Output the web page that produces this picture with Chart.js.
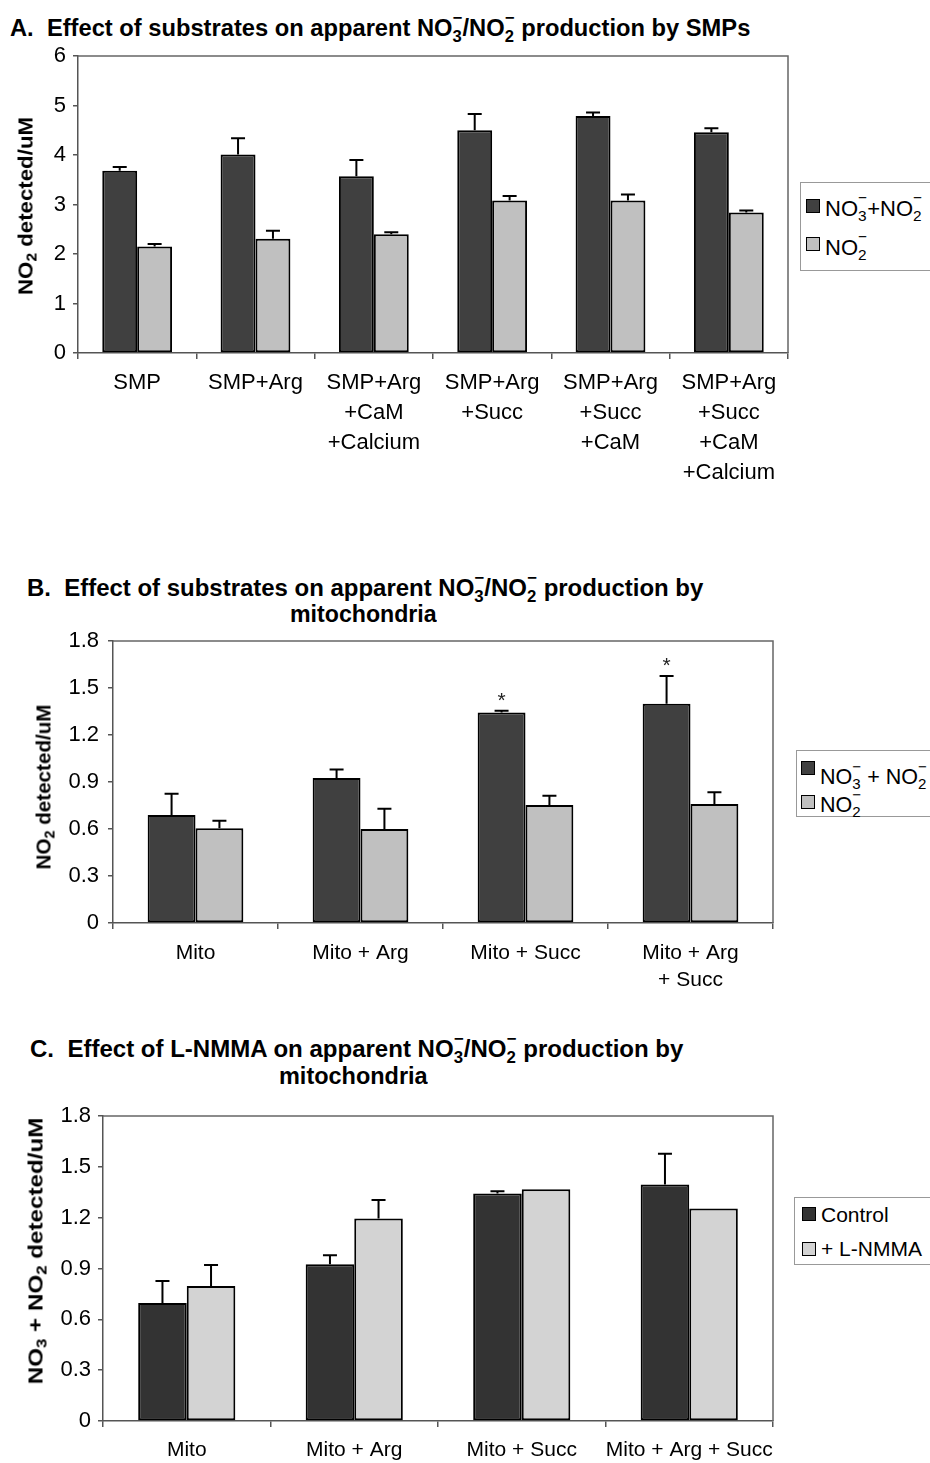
<!DOCTYPE html>
<html>
<head>
<title>NO3/NO2 production by SMPs and mitochondria</title>
<script src="https://cdn.jsdelivr.net/npm/chart.js"></script>
<style>
  body { margin: 0; width: 930px; height: 1463px; overflow: hidden; background: #fff; position: relative;
         font-family: "Liberation Sans", Arial, sans-serif; color: #000; }
  .pane { position: absolute; }
  .ttl { position: absolute; white-space: nowrap; font-weight: bold; font-size: 23px; line-height: 1;
         transform-origin: 0 0; font-family: "Liberation Sans Narrow", "Liberation Sans", sans-serif; }
  .ytl { position: absolute; white-space: nowrap; font-weight: bold; font-size: 21px; line-height: 1; }
  .box { position: absolute; border: 1.5px solid #999; background: #fff; box-sizing: border-box; }
  .sq { position: absolute; width: 14px; height: 14px; border: 1.5px solid #000; box-sizing: border-box; }
  .lg { position: absolute; font-size: 22px; line-height: 1; white-space: nowrap; }
  .ss { display: inline-block; position: relative; width: .42em; height: 1em; }
  .ss .p, .ss .b { position: absolute; left: 0; font-size: .7em; line-height: 1; }
  .ss .p { top: -.23em; }
  .ss .b { top: .94em; }
  .sb { font-size: .7em; position: relative; top: .3em; }
</style>
</head>
<body>

<div class="ttl" style="left:10px;top:13px" data-w="740">A.&nbsp; Effect of substrates on apparent NO<span class="ss"><span class="p">&minus;</span><span class="b">3</span></span>/NO<span class="ss"><span class="p">&minus;</span><span class="b">2</span></span> production by SMPs</div>
<div class="pane" style="left:0;top:0;width:800px;height:500px"><canvas id="chartA"></canvas></div>
<div class="ytl" data-cx="25" data-cy="206" data-w="178">NO<span class="sb">2</span> detected/uM</div>
<div class="box" style="left:800px;top:182px;width:140px;height:89px"></div>
<div class="sq" style="left:806px;top:199px;background:#404040"></div>
<div class="lg" style="left:825px;top:194px">NO<span class="ss"><span class="p">&minus;</span><span class="b">3</span></span>+NO<span class="ss"><span class="p">&minus;</span><span class="b">2</span></span></div>
<div class="sq" style="left:806px;top:237px;background:#c0c0c0"></div>
<div class="lg" style="left:825px;top:233px">NO<span class="ss"><span class="p">&minus;</span><span class="b">2</span></span></div>

<div class="ttl" style="left:27px;top:573px" data-w="676">B.&nbsp; Effect of substrates on apparent NO<span class="ss"><span class="p">&minus;</span><span class="b">3</span></span>/NO<span class="ss"><span class="p">&minus;</span><span class="b">2</span></span> production by</div>
<div class="ttl" style="left:290px;top:603px" data-w="147">mitochondria</div>
<div class="pane" style="left:0;top:600px;width:790px;height:400px"><canvas id="chartB"></canvas></div>
<div class="ytl" data-cx="43" data-cy="787" data-w="165">NO<span class="sb">2</span> detected/uM</div>
<div class="box" style="left:796px;top:750px;width:140px;height:67px"></div>
<div class="sq" style="left:801px;top:761px;background:#404040"></div>
<div class="lg" style="left:820px;top:762px;font-size:21.5px">NO<span class="ss"><span class="p">&minus;</span><span class="b">3</span></span> + NO<span class="ss"><span class="p">&minus;</span><span class="b">2</span></span></div>
<div class="sq" style="left:801px;top:795px;background:#c0c0c0"></div>
<div class="lg" style="left:820px;top:790px;font-size:21.5px">NO<span class="ss"><span class="p">&minus;</span><span class="b">2</span></span></div>

<div class="ttl" style="left:30px;top:1034px" data-w="653">C.&nbsp; Effect of L-NMMA on apparent NO<span class="ss"><span class="p">&minus;</span><span class="b">3</span></span>/NO<span class="ss"><span class="p">&minus;</span><span class="b">2</span></span> production by</div>
<div class="ttl" style="left:279px;top:1065px" data-w="149">mitochondria</div>
<div class="pane" style="left:0;top:1090px;width:790px;height:373px"><canvas id="chartC"></canvas></div>
<div class="ytl" data-cx="35" data-cy="1251" data-w="267">NO<span class="sb">3</span> + NO<span class="sb">2</span> detected/uM</div>
<div class="box" style="left:794px;top:1197px;width:140px;height:68px"></div>
<div class="sq" style="left:802px;top:1207px;background:#333333"></div>
<div class="lg" style="left:821px;top:1204px;font-size:21px">Control</div>
<div class="sq" style="left:802px;top:1242px;background:#d3d3d3"></div>
<div class="lg" style="left:821px;top:1238px;font-size:21px">+ L-NMMA</div>

<script>
  // panel A - SMPs
  const labelsA = ['SMP', 'SMP+Arg', ['SMP+Arg', '+CaM', '+Calcium'], ['SMP+Arg', '+Succ'],
                   ['SMP+Arg', '+Succ', '+CaM'], ['SMP+Arg', '+Succ', '+CaM', '+Calcium']];
  const noxA    = [3.68, 4.01, 3.57, 4.50, 4.79, 4.46];
  const noxAErr = [0.08, 0.33, 0.33, 0.33, 0.07, 0.08];
  const no2A    = [2.15, 2.31, 2.40, 3.08, 3.08, 2.84];
  const no2AErr = [0.05, 0.16, 0.04, 0.09, 0.12, 0.04];

  // panel B - mitochondria
  const labelsB = ['Mito', 'Mito + Arg', 'Mito + Succ', ['Mito + Arg', '+ Succ']];
  const noxB    = [0.69, 0.925, 1.344, 1.399];
  const noxBErr = [0.135, 0.055, 0.01, 0.178];
  const no2B    = [0.605, 0.60, 0.753, 0.76];
  const no2BErr = [0.048, 0.13, 0.06, 0.074];
  const sigB    = ['', '', '*', '*'];

  // panel C - L-NMMA
  const labelsC  = ['Mito', 'Mito + Arg', 'Mito + Succ', 'Mito + Arg + Succ'];
  const ctrlC    = [0.697, 0.925, 1.342, 1.396];
  const ctrlCErr = [0.129, 0.053, 0.014, 0.181];
  const nmmaC    = [0.797, 1.195, 1.368, 1.254];
  const nmmaCErr = [0.124, 0.11, null, null];

  const FONT = '"Liberation Sans", Arial, sans-serif';

  // upper error bars (+ optional significance marks) drawn through the y scale
  const errorBars = {
    id: 'errorBars',
    afterDatasetsDraw(chart, args, opts) {
      const ctx = chart.ctx, y = chart.scales.y;
      ctx.save();
      ctx.strokeStyle = '#000';
      ctx.fillStyle = '#222';
      ctx.lineWidth = 2;
      ctx.font = '21px ' + FONT;
      ctx.textAlign = 'center';
      ctx.textBaseline = 'middle';
      chart.data.datasets.forEach((ds, i) => {
        const errs = opts.errors[i];
        chart.getDatasetMeta(i).data.forEach((bar, j) => {
          const e = errs[j];
          if (e == null) return;
          const top = y.getPixelForValue(ds.data[j] + e);
          ctx.beginPath();
          ctx.moveTo(bar.x, bar.y);
          ctx.lineTo(bar.x, top);
          ctx.moveTo(bar.x - opts.cap, top);
          ctx.lineTo(bar.x + opts.cap, top);
          ctx.stroke();
          const m = opts.marks && opts.marks[i] && opts.marks[i][j];
          if (m) ctx.fillText(m, bar.x, top - 10);
        });
      });
      ctx.restore();
    }
  };

  // top and right edge of the plot frame
  const frame = {
    id: 'frame',
    beforeDatasetsDraw(chart) {
      const a = chart.chartArea, ctx = chart.ctx;
      ctx.save();
      ctx.strokeStyle = '#666';
      ctx.lineWidth = 1.5;
      ctx.beginPath();
      ctx.moveTo(a.left, a.top);
      ctx.lineTo(a.right, a.top);
      ctx.lineTo(a.right, a.bottom);
      ctx.stroke();
      ctx.restore();
    }
  };

  function barChart(id, labels, sets, cfg) {
    return new Chart(document.getElementById(id), {
      type: 'bar',
      data: {
        labels: labels,
        datasets: sets.map(s => ({
          data: s.data,
          backgroundColor: s.color,
          borderColor: '#000',
          borderWidth: 2,
          borderSkipped: false,
          categoryPercentage: cfg.cat,
          barPercentage: 1
        }))
      },
      options: {
        responsive: true,
        maintainAspectRatio: false,
        animation: false,
        layout: { padding: { top: cfg.top, right: cfg.right, left: 0, bottom: 0 } },
        plugins: {
          legend: { display: false },
          tooltip: { enabled: false },
          errorBars: { errors: sets.map(s => s.err), marks: sets.map(s => s.marks), cap: 7 }
        },
        scales: {
          x: {
            grid: { offset: true, drawOnChartArea: false, tickLength: 6, color: '#555', lineWidth: 1.5 },
            border: { color: '#555', width: 1.5 },
            ticks: { color: '#000', autoSkip: false, maxRotation: 0, padding: cfg.xpad,
                     font: { family: FONT, size: cfg.xfont, lineHeight: cfg.lh } },
            afterFit: s => { s.height = cfg.xh; }
          },
          y: {
            min: 0,
            max: cfg.max,
            grid: { drawOnChartArea: false, tickLength: 5, color: '#555', lineWidth: 1.5 },
            border: { color: '#555', width: 1.5 },
            ticks: { color: '#000', stepSize: cfg.step, padding: cfg.ypad,
                     font: { family: FONT, size: cfg.yfont },
                     callback: v => String(Number(v.toFixed(1))) },
            afterFit: s => { s.width = cfg.yw; }
          }
        }
      },
      plugins: [errorBars, frame]
    });
  }

  barChart('chartA', labelsA, [
    { data: noxA, err: noxAErr, color: '#404040' },
    { data: no2A, err: no2AErr, color: '#c0c0c0' }
  ], { cat: 0.59, top: 56, right: 12, xh: 147, yw: 78, max: 6, step: 1, yfont: 22, xfont: 22, ypad: 7, xpad: 9, lh: '30px' });

  barChart('chartB', labelsB, [
    { data: noxB, err: noxBErr, color: '#404040', marks: sigB },
    { data: no2B, err: no2BErr, color: '#c0c0c0' }
  ], { cat: 0.58, top: 41, right: 17, xh: 77, yw: 113, max: 1.8, step: 0.3, yfont: 22, xfont: 21, ypad: 9, xpad: 11, lh: '27px' });

  barChart('chartC', labelsC, [
    { data: ctrlC, err: ctrlCErr, color: '#333333' },
    { data: nmmaC, err: nmmaCErr, color: '#d3d3d3' }
  ], { cat: 0.58, top: 26, right: 17, xh: 42, yw: 103, max: 1.8, step: 0.3, yfont: 22, xfont: 21, ypad: 7, xpad: 12, lh: '23px' });

  // squeeze the condensed titles to the widths in the figure
  document.querySelectorAll('.ttl').forEach(el => {
    const k = Number(el.dataset.w) / el.offsetWidth;
    el.style.transform = 'scaleX(' + k + ')';
  });
  document.querySelectorAll('.ytl').forEach(el => {
    const k = Number(el.dataset.w) / el.offsetWidth;
    el.style.left = el.dataset.cx + 'px';
    el.style.top = el.dataset.cy + 'px';
    el.style.transform = 'translate(-50%, -50%) rotate(-90deg) scaleX(' + k + ')';
  });
</script>
</body>
</html>
